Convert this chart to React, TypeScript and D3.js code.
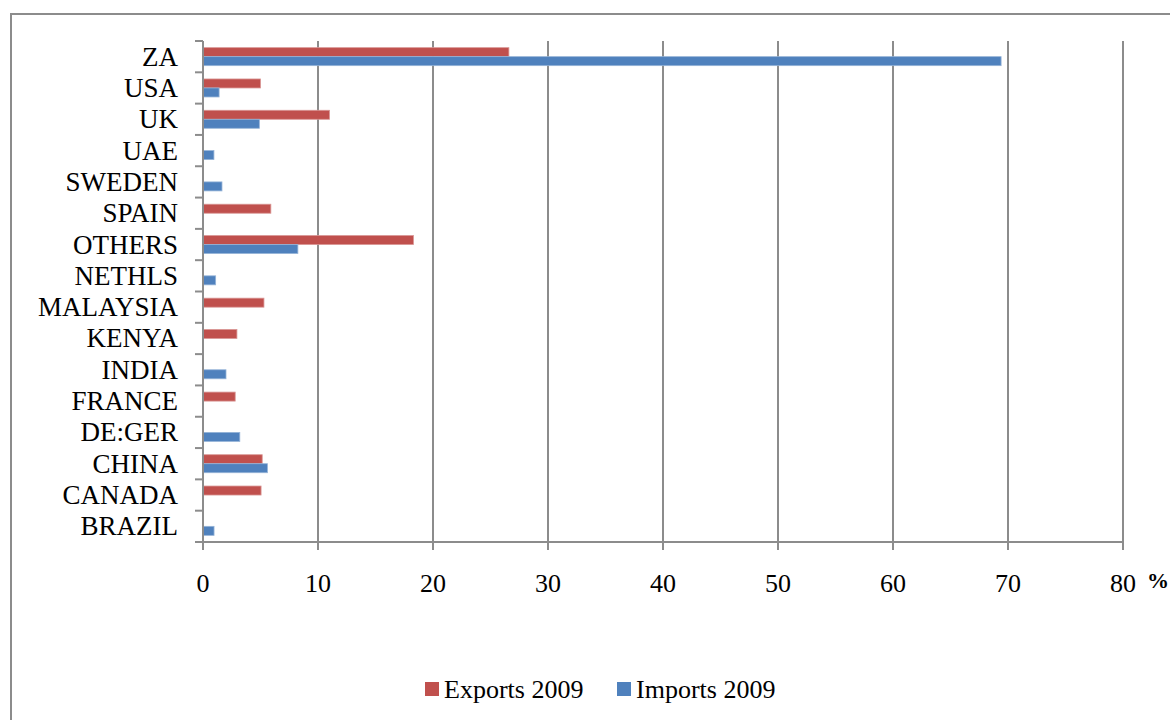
import React from "react";
import * as d3 from "d3";

const categories = ["ZA", "USA", "UK", "UAE", "SWEDEN", "SPAIN", "OTHERS", "NETHLS", "MALAYSIA", "KENYA", "INDIA", "FRANCE", "DE:GER", "CHINA", "CANADA", "BRAZIL"];
const exports2009 = [26.6, 5.0, 11.0, 0, 0, 5.9, 18.3, 0, 5.3, 2.95, 0, 2.8, 0, 5.15, 5.05, 0];
const imports2009 = [69.4, 1.4, 4.9, 0.95, 1.65, 0, 8.25, 1.1, 0, 0, 2.0, 0, 3.2, 5.6, 0, 0.96];
const xTicks = [0, 10, 20, 30, 40, 50, 60, 70, 80];
const seriesNames = ["Exports 2009", "Imports 2009"];
const seriesColors = ["#C0504D", "#4F81BD"];
const seriesStroke = ["#D99694", "#95B3D7"];

export default function App() {
  const W = 1170, H = 720;
  const left = 203, right = 1123, top = 41, bottom = 542;
  const x = d3.scaleLinear().domain([0, 80]).range([left, right]);
  const y = d3.scaleBand<string>().domain(categories).range([top, bottom]).padding(0);
  const bw = y.bandwidth();
  const inner = d3.scaleBand<string>().domain(seriesNames).range([bw / 2 - 9, bw / 2 + 9]).padding(0);
  const font = "'Liberation Serif', 'Times New Roman', serif";
  const grid = "#8C8C8C";
  const series = [exports2009, imports2009];

  return (
    <div style={{ position: "absolute", left: 0, top: 0 }}>
      <svg width={W} height={H} style={{ display: "block" }} fontFamily={font}>
        <rect x={0} y={0} width={W} height={H} fill="#fff" />
        <rect x={11} y={14} width={W + 20} height={H + 20} fill="none" stroke={grid} strokeWidth={2} />
        {xTicks.slice(1).map((t) => (
          <line key={"g" + t} x1={x(t)} x2={x(t)} y1={top} y2={bottom} stroke={grid} strokeWidth={2} />
        ))}
        {categories.map((c, i) =>
          series.map((vals, s) =>
            vals[i] > 0 ? (
              <rect
                key={c + s}
                x={x(0)}
                y={(y(c) as number) + (inner(seriesNames[s]) as number)}
                width={x(vals[i]) - x(0)}
                height={inner.bandwidth()}
                fill={seriesColors[s]}
                stroke={seriesStroke[s]}
                strokeWidth={0.8}
              />
            ) : null
          )
        )}
        {/* y axis */}
        <line x1={left} x2={left} y1={top} y2={bottom + 8} stroke={grid} strokeWidth={2} />
        {categories.map((c) => (
          <line key={"yt" + c} x1={left - 8} x2={left} y1={y(c) as number} y2={y(c) as number} stroke={grid} strokeWidth={2} />
        ))}
        <line x1={left - 8} x2={left} y1={bottom} y2={bottom} stroke={grid} strokeWidth={2} />
        {categories.map((c) => (
          <text key={"yl" + c} x={178} y={(y(c) as number) + bw / 2 + 9} textAnchor="end" fontSize={27} fill="#000">
            {c}
          </text>
        ))}
        {/* x axis */}
        <line x1={left - 8} x2={right} y1={bottom} y2={bottom} stroke={grid} strokeWidth={2} />
        {xTicks.map((t) => (
          <line key={"xt" + t} x1={x(t)} x2={x(t)} y1={bottom} y2={bottom + 8} stroke={grid} strokeWidth={2} />
        ))}
        {xTicks.map((t) => (
          <text key={"xl" + t} x={x(t)} y={592} textAnchor="middle" fontSize={26} fill="#000">
            {t}
          </text>
        ))}
        <text x={1147} y={588} fontSize={22} fontWeight="bold" fill="#000">%</text>
        {/* legend */}
        <rect x={425} y={682} width={14} height={14} fill={seriesColors[0]} />
        <text x={444} y={698} fontSize={26} fill="#000">{seriesNames[0]}</text>
        <rect x={617} y={682} width={14} height={14} fill={seriesColors[1]} />
        <text x={636} y={698} fontSize={26} fill="#000">{seriesNames[1]}</text>
      </svg>
    </div>
  );
}
